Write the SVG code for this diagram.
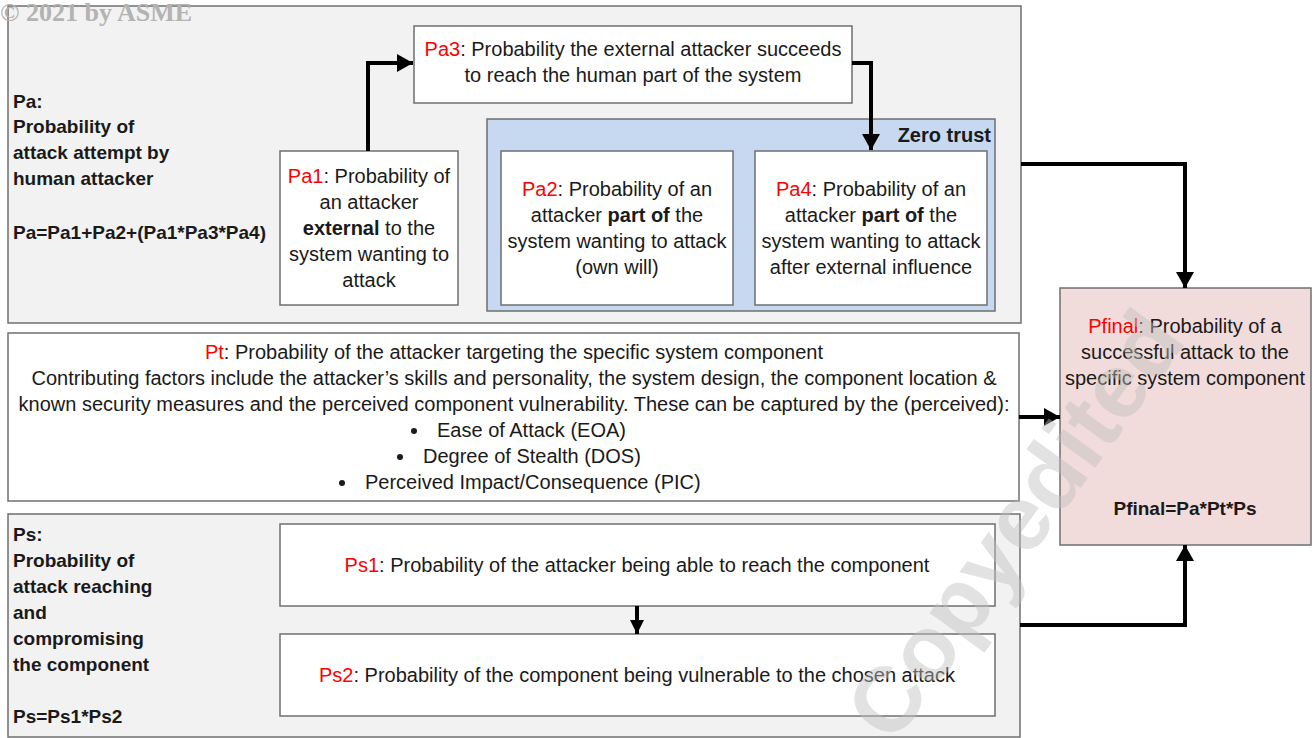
<svg xmlns="http://www.w3.org/2000/svg" width="1315" height="738" viewBox="0 0 1315 738">
<style>
.t{font-family:"Liberation Sans",Arial,sans-serif;font-size:20px;fill:#1a1a1a}
.b{font-weight:bold}
.lb{font-weight:bold;font-size:19px}
.r{fill:#ff0000}
.c{text-anchor:middle}
.box{fill:#ffffff;stroke:#6f6f6f;stroke-width:1.5}
.grp{fill:#f2f2f2;stroke:#6f6f6f;stroke-width:1.5}
.conn{fill:none;stroke:#000;stroke-width:4}
</style>
<defs>
<marker id="ah" markerUnits="userSpaceOnUse" markerWidth="18" markerHeight="18" refX="16" refY="9" orient="auto">
<path d="M0,0 L16,9 L0,18 Z" fill="#000"/>
</marker>
<marker id="ahs" markerUnits="userSpaceOnUse" markerWidth="14" markerHeight="14" refX="14" refY="7" orient="auto">
<path d="M0,0 L14,7 L0,14 Z" fill="#000"/>
</marker>
</defs>
<rect width="1315" height="738" fill="#ffffff"/>

<g id="pa-group">
<rect class="grp" x="8" y="6" width="1013" height="317"/>
<text class="t lb" x="13" y="108">Pa:</text>
<text class="t lb" x="13" y="133">Probability of</text>
<text class="t lb" x="13" y="159">attack attempt by</text>
<text class="t lb" x="13" y="185">human attacker</text>
<text class="t lb" x="13" y="239">Pa=Pa1+Pa2+(Pa1*Pa3*Pa4)</text>
</g>

<g id="zero-trust">
<rect x="487" y="119" width="508" height="192" fill="#c6d9f0" stroke="#6f6f6f" stroke-width="1.5"/>
<text class="t b" x="991" y="142" text-anchor="end">Zero trust</text>
</g>

<g id="pa3">
<rect class="box" x="414" y="26" width="438" height="77"/>
<text class="t c" x="633" y="56"><tspan class="r">Pa3</tspan>: Probability the external attacker succeeds</text>
<text class="t c" x="633" y="82">to reach the human part of the system</text>
</g>

<g id="pa1">
<rect class="box" x="280" y="151" width="178" height="154"/>
<text class="t c" x="369" y="183"><tspan class="r">Pa1</tspan>: Probability of</text>
<text class="t c" x="369" y="209">an attacker</text>
<text class="t c" x="369" y="235"><tspan class="b">external</tspan> to the</text>
<text class="t c" x="369" y="261">system wanting to</text>
<text class="t c" x="369" y="287">attack</text>
</g>

<g id="pa2">
<rect class="box" x="501" y="151" width="232" height="154"/>
<text class="t c" x="617" y="196"><tspan class="r">Pa2</tspan>: Probability of an</text>
<text class="t c" x="617" y="222">attacker <tspan class="b">part of</tspan> the</text>
<text class="t c" x="617" y="248">system wanting to attack</text>
<text class="t c" x="617" y="274">(own will)</text>
</g>

<g id="pa4">
<rect class="box" x="755" y="151" width="232" height="154"/>
<text class="t c" x="871" y="196"><tspan class="r">Pa4</tspan>: Probability of an</text>
<text class="t c" x="871" y="222">attacker <tspan class="b">part of</tspan> the</text>
<text class="t c" x="871" y="248">system wanting to attack</text>
<text class="t c" x="871" y="274">after external influence</text>
</g>

<g id="pt">
<rect class="box" x="8" y="333" width="1011" height="168"/>
<text class="t c" x="514" y="359"><tspan class="r">Pt</tspan>: Probability of the attacker targeting the specific system component</text>
<text class="t c" x="514" y="385">Contributing factors include the attacker’s skills and personality, the system design, the component location &amp;</text>
<text class="t c" x="514" y="411">known security measures and the perceived component vulnerability. These can be captured by the (perceived):</text>
<circle cx="414" cy="431" r="3" fill="#1a1a1a"/>
<text class="t" x="437" y="437">Ease of Attack (EOA)</text>
<circle cx="400" cy="457" r="3" fill="#1a1a1a"/>
<text class="t" x="423" y="463">Degree of Stealth (DOS)</text>
<circle cx="342" cy="483" r="3" fill="#1a1a1a"/>
<text class="t" x="365" y="489">Perceived Impact/Consequence (PIC)</text>
</g>

<g id="ps-group">
<rect class="grp" x="8" y="514" width="1012" height="223"/>
<text class="t lb" x="13" y="541">Ps:</text>
<text class="t lb" x="13" y="567">Probability of</text>
<text class="t lb" x="13" y="593">attack reaching</text>
<text class="t lb" x="13" y="619">and</text>
<text class="t lb" x="13" y="645">compromising</text>
<text class="t lb" x="13" y="671">the component</text>
<text class="t lb" x="13" y="723">Ps=Ps1*Ps2</text>
</g>

<g id="ps1">
<rect class="box" x="280" y="524" width="715" height="82"/>
<text class="t c" x="637" y="572"><tspan class="r">Ps1</tspan>: Probability of the attacker being able to reach the component</text>
</g>

<g id="ps2">
<rect class="box" x="280" y="634" width="715" height="82"/>
<text class="t c" x="637" y="682"><tspan class="r">Ps2</tspan>: Probability of the component being vulnerable to the chosen attack</text>
</g>

<g id="pfinal">
<rect x="1060" y="288" width="251" height="257" fill="#f2dcdb" stroke="#6f6f6f" stroke-width="1.5"/>
<text class="t c" x="1185" y="333"><tspan class="r">Pfinal</tspan>: Probability of a</text>
<text class="t c" x="1185" y="359">successful attack to the</text>
<text class="t c" x="1185" y="385">specific system component</text>
<text class="t c lb" x="1185" y="515">Pfinal=Pa*Pt*Ps</text>
</g>

<g id="connectors">
<path class="conn" d="M368,151 V63 H413" marker-end="url(#ah)"/>
<path class="conn" d="M852,63 H871 V150" marker-end="url(#ah)"/>
<path class="conn" d="M1021,164 H1185 V288" marker-end="url(#ah)"/>
<path class="conn" d="M1019,417 H1060" marker-end="url(#ah)"/>
<path class="conn" d="M1020,625 H1185 V545" marker-end="url(#ah)"/>
<path class="conn" d="M637,606 V634" stroke-width="3" marker-end="url(#ahs)"/>
</g>

<g id="watermarks">
<text x="0" y="21" font-family="'Liberation Serif','Times New Roman',serif" font-weight="bold" font-size="26" fill="#b3b3b3">© 2021 by ASME</text>
<text transform="translate(1018,527) rotate(-54)" text-anchor="middle" dy="0.3em" font-family="'Liberation Sans',Arial,sans-serif" font-weight="bold" font-size="92" fill="#c0c0c0" opacity="0.45">Copyedited</text>
</g>
</svg>
